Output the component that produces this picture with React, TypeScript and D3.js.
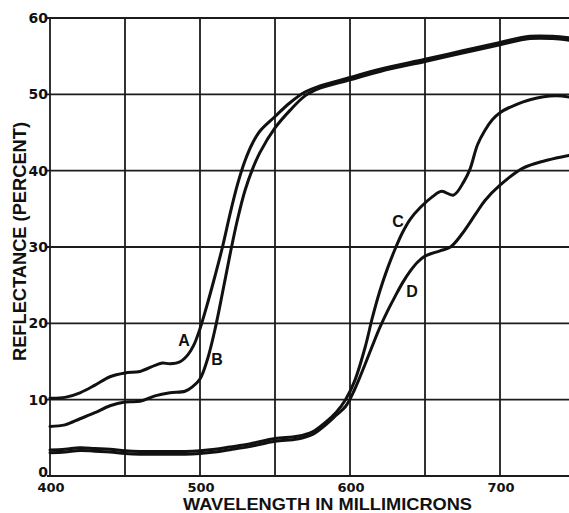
import React from "react";
import * as d3 from "d3";

// Reflectance curves, wavelength (millimicrons) vs reflectance (percent)
const curveANm = [400, 410, 420, 430, 440, 450, 460, 470, 475, 480, 487, 492, 496, 500, 505, 510, 515, 520, 525, 530, 535, 540, 550, 560, 570, 580, 600, 620, 650, 675, 700, 720, 735, 750];
const curveAPct = [10.2, 10.3, 10.9, 11.9, 13.0, 13.5, 13.7, 14.5, 14.8, 14.7, 15.0, 15.9, 17.2, 19.3, 22.6, 26.2, 30.0, 34.3, 38.2, 41.3, 43.6, 45.2, 47.1, 48.9, 50.3, 51.1, 52.2, 53.3, 54.6, 55.7, 56.8, 57.6, 57.6, 57.3];

const curveBNm = [400, 410, 420, 430, 440, 450, 460, 470, 480, 490, 495, 500, 505, 510, 515, 520, 525, 530, 535, 540, 550, 560, 570, 580, 600, 620, 650, 675, 700, 720, 735, 750];
const curveBPct = [6.5, 6.7, 7.5, 8.3, 9.2, 9.7, 9.8, 10.5, 10.9, 11.1, 11.7, 12.7, 15.3, 19.2, 24.0, 29.0, 33.6, 37.4, 40.2, 42.4, 45.6, 47.9, 49.8, 50.8, 51.9, 53.0, 54.3, 55.4, 56.5, 57.3, 57.3, 57.0];

const curveCNm = [400, 410, 420, 430, 440, 450, 460, 470, 480, 490, 500, 510, 520, 533, 550, 565, 575, 584, 591, 597, 603, 610, 615, 620, 625, 630, 635, 640, 647, 655, 661, 669, 676, 680, 685, 690, 695, 700, 710, 720, 737, 750];
const curveCPct = [3.4, 3.5, 3.7, 3.6, 3.5, 3.3, 3.2, 3.2, 3.2, 3.2, 3.3, 3.5, 3.8, 4.2, 4.9, 5.2, 5.8, 7.1, 8.4, 10.0, 12.4, 16.8, 20.8, 24.3, 27.2, 29.7, 31.9, 33.6, 35.2, 36.6, 37.3, 36.8, 38.6, 40.2, 43.4, 45.3, 46.7, 47.6, 48.6, 49.3, 49.8, 49.5];

const curveDNm = [400, 410, 420, 430, 440, 450, 460, 470, 480, 490, 500, 510, 520, 533, 550, 565, 575, 584, 591, 597, 603, 610, 615, 620, 625, 630, 635, 640, 645, 650, 660, 667, 675, 684, 690, 700, 715, 730, 746, 750];
const curveDPct = [3.05, 3.15, 3.35, 3.25, 3.15, 2.95, 2.85, 2.85, 2.85, 2.85, 2.95, 3.15, 3.45, 3.85, 4.55, 4.85, 5.45, 6.75, 8.0, 9.1, 11.3, 14.6, 17.1, 19.5, 21.6, 23.5, 25.3, 26.8, 28.0, 28.8, 29.5, 30.0, 31.8, 34.4, 36.1, 38.1, 40.3, 41.3, 42.0, 42.2];

// Curve letters and where they sit (wavelength, percent)
const curveLetters = ["A", "B", "C", "D"];
const letterNm = [489.3, 511.3, 632, 641.3];
const letterPct = [17.7, 15.3, 33.3, 24.2];

const xTicks = [400, 500, 600, 700];
const xGrid = [450, 500, 550, 600, 650, 700, 750];
const yTicks = [0, 10, 20, 30, 40, 50, 60];

const W = 569;
const H = 513;

export default function App() {
  const x = d3.scaleLinear().domain([400, 750]).range([50, 575]);
  const y = d3.scaleLinear().domain([0, 60]).range([476, 18]);

  const line = d3
    .line<[number, number]>()
    .x((d) => x(d[0]))
    .y((d) => y(d[1]))
    .curve(d3.curveCatmullRom.alpha(0.5));

  const series = [
    [curveANm, curveAPct],
    [curveBNm, curveBPct],
    [curveCNm, curveCPct],
    [curveDNm, curveDPct],
  ].map(([nm, pct]) => nm.map((n, i) => [n, pct[i]] as [number, number]));

  const ink = "#111";
  const gridInk = "#1c1c1c";

  return (
    <div style={{ position: "absolute", left: 0, top: 0 }}>
      <svg width={W} height={H} style={{ display: "block", background: "#fff" }}>
        {/* horizontal grid */}
        {yTicks.map((t) => (
          <line key={"h" + t} x1={x(400) - 3} x2={x(750)} y1={y(t)} y2={y(t)} stroke={gridInk} strokeWidth={1.8} />
        ))}
        {/* vertical grid */}
        {[400, ...xGrid].map((t) => (
          <line key={"v" + t} x1={x(t)} x2={x(t)} y1={y(60)} y2={y(0)} stroke={gridInk} strokeWidth={1.8} />
        ))}

        {/* curves */}
        {series.map((pts, i) => (
          <path key={"c" + i} d={line(pts) || ""} fill="none" stroke={ink} strokeWidth={3} strokeLinejoin="round" strokeLinecap="round" />
        ))}

        {/* curve letters */}
        {curveLetters.map((l, i) => (
          <text
            key={l}
            x={x(letterNm[i])}
            y={y(letterPct[i])}
            textAnchor="middle"
            dominantBaseline="central"
            fontFamily="'Liberation Sans', Arial, sans-serif"
            fontWeight="bold"
            fontSize={16}
            fill={ink}
          >
            {l}
          </text>
        ))}

        {/* y tick labels */}
        {yTicks.map((t) => (
          <text
            key={"yl" + t}
            x={48}
            y={y(t) - (t === 0 ? 4 : 0)}
            textAnchor="end"
            dominantBaseline="central"
            fontFamily="'DejaVu Sans', sans-serif"
            fontWeight="bold"
            fontSize={14}
            fill={ink}
          >
            {t}
          </text>
        ))}

        {/* x tick labels */}
        {xTicks.map((t) => (
          <text
            key={"xl" + t}
            x={x(t) + 1}
            y={492}
            textAnchor="middle"
            fontFamily="'DejaVu Sans', sans-serif"
            fontWeight="bold"
            fontSize={13}
            fill={ink}
          >
            {t}
          </text>
        ))}

        {/* axis titles */}
        <text
          x={327.5}
          y={510}
          textAnchor="middle"
          fontFamily="'Liberation Sans', Arial, sans-serif"
          fontWeight="bold"
          fontSize={16.5}
          textLength={289}
          lengthAdjust="spacingAndGlyphs"
          fill={ink}
        >
          WAVELENGTH IN MILLIMICRONS
        </text>
        <text
          transform="translate(19.5,241.5) rotate(-90)"
          textAnchor="middle"
          dominantBaseline="central"
          fontFamily="'Liberation Sans', Arial, sans-serif"
          fontWeight="bold"
          fontSize={18}
          textLength={239}
          lengthAdjust="spacingAndGlyphs"
          fill={ink}
        >
          REFLECTANCE (PERCENT)
        </text>
      </svg>
    </div>
  );
}
